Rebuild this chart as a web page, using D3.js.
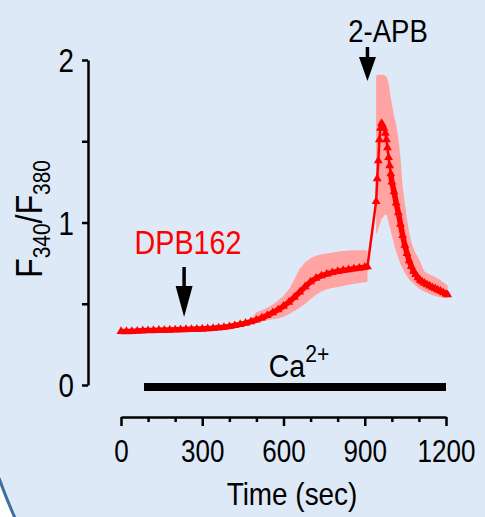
<!DOCTYPE html>
<html>
<head>
<meta charset="utf-8">
<script src="https://cdn.jsdelivr.net/npm/d3@7"></script>
<style>
  body { margin: 0; background: #ffffff; }
  svg { display: block; }
</style>
</head>
<body>
<svg id="chart" width="485" height="517"></svg>
<script>
// time points (sec)
const times = [0,20,40,60,80,100,120,140,160,180,200,220,240,260,280,300,320,340,360,380,400,420,440,460,480,
  500,520,540,560,580,600,620,640,660,680,700,720,740,760,780,800,820,840,860,880,900,910,
  942,946,950,954,958,962,966,971,976,980,984,988,992,996,
  1000,1008,1016,1024,1032,1040,1048,1056,1064,1072,1080,1088,1096,1104,1112,1120,1130,1140,1150,1160,1170,1180,1190,1200,1206];

// mean F340/F380
const meanVals = [0.33,0.33,0.33,0.332,0.334,0.335,0.336,0.337,0.338,0.339,0.34,0.341,0.342,0.343,0.344,0.345,0.347,0.349,0.352,0.355,0.36,0.366,0.373,0.381,0.39,
  0.40,0.413,0.428,0.445,0.463,0.485,0.51,0.54,0.572,0.605,0.635,0.657,0.672,0.683,0.692,0.699,0.705,0.71,0.715,0.72,0.725,0.728,
  1.13,1.27,1.38,1.51,1.58,1.61,1.60,1.58,1.55,1.51,1.46,1.40,1.35,1.30,
  1.25,1.19,1.12,1.06,0.99,0.92,0.86,0.81,0.765,0.73,0.70,0.68,0.66,0.645,0.635,0.627,0.618,0.61,0.60,0.593,0.585,0.577,0.568,0.56,0.555];

// upper edge of error band
const upperVals = [0.342,0.342,0.342,0.344,0.346,0.347,0.348,0.349,0.35,0.351,0.352,0.353,0.354,0.355,0.356,0.357,0.359,0.361,0.364,0.367,0.372,0.378,0.385,0.393,0.402,
  0.45,0.46,0.475,0.495,0.52,0.55,0.59,0.65,0.715,0.755,0.78,0.795,0.805,0.81,0.815,0.82,0.825,0.828,0.83,0.83,0.83,0.83,
  1.90,1.91,1.91,1.91,1.91,1.91,1.91,1.91,1.90,1.90,1.88,1.86,1.81,1.77,
  1.73,1.66,1.60,1.52,1.40,1.22,1.12,1.02,0.94,0.88,0.84,0.81,0.79,0.76,0.73,0.70,0.688,0.68,0.672,0.665,0.655,0.645,0.632,0.62,0.61];

// lower edge of error band
const lowerVals = [0.318,0.318,0.318,0.32,0.322,0.323,0.324,0.325,0.326,0.327,0.328,0.329,0.33,0.331,0.332,0.333,0.335,0.337,0.34,0.343,0.348,0.354,0.361,0.369,0.378,
  0.385,0.392,0.40,0.405,0.41,0.42,0.435,0.455,0.475,0.50,0.53,0.555,0.575,0.59,0.597,0.603,0.61,0.617,0.623,0.628,0.633,0.636,
  0.93,0.94,0.96,0.98,1.0,1.02,1.03,1.04,1.05,1.05,1.03,1.0,0.97,0.95,
  0.92,0.87,0.82,0.78,0.745,0.715,0.69,0.67,0.65,0.635,0.625,0.612,0.60,0.59,0.582,0.575,0.567,0.56,0.553,0.547,0.543,0.54,0.537,0.535,0.533];

const xTicks = [0,100,200,300,400,500,600,700,800,900,1000,1100,1200];
const xLabels = [0,300,600,900,1200];
const yTicks = [0,0.5,1,1.5,2];
const yLabels = [0,1,2];

// drug applications (sec)
const dpbTime = 233;
const apbTime = 910;
const caStart = 85, caEnd = 1200;

const font = "'Liberation Sans',Arial,sans-serif";
const red = "#ff0000", pink = "#ffa3a3";

const data = times.map((t, i) => ({t, m: meanVals[i], hi: upperVals[i], lo: lowerVals[i]}));

const svg = d3.select("#chart");

// squeeze text horizontally (the original uses a condensed face)
function condense(sel, k) {
  sel.each(function() {
    const el = d3.select(this);
    const tx = +el.attr("x") || 0, ty = +el.attr("y") || 0;
    el.attr("x", null).attr("y", null)
      .attr("transform", `translate(${tx},${ty}) scale(${k},1)`);
  });
}

// background panel with rounded edge bottom-left
svg.append("rect").attr("width", 485).attr("height", 517).attr("fill", "#dde9f6");
svg.append("path").attr("d", "M0,480 A550,550 0 0,0 15,517 L0,517 Z").attr("fill", "#ffffff");
svg.append("path").attr("d", "M-1,478 A550,550 0 0,0 15,518").attr("fill", "none")
  .attr("stroke", "#3f6f9f").attr("stroke-width", 3);

const x = d3.scaleLinear().domain([0, 1200]).range([121, 446]);
const y = d3.scaleLinear().domain([0, 2]).range([385, 60]);

// y axis
const yAxis = svg.append("g").attr("transform", "translate(88,0)")
  .call(d3.axisLeft(y).tickValues(yTicks).tickSize(6).tickSizeOuter(0)
    .tickFormat(d => yLabels.includes(d) ? d : ""));
yAxis.select(".domain").attr("stroke-width", 2.5);
yAxis.selectAll(".tick line").attr("stroke-width", 2.5);
yAxis.selectAll(".tick text").attr("font-family", font).attr("font-size", 33)
  .attr("fill", "#000").attr("x", -14).attr("y", 0).attr("dy", "0.36em")
  .call(condense, 0.84);

// x axis
const xAxis = svg.append("g").attr("transform", "translate(0,417)")
  .call(d3.axisBottom(x).tickValues(xTicks).tickSizeOuter(0)
    .tickFormat(d => xLabels.includes(d) ? d : ""));
xAxis.select(".domain").attr("stroke-width", 2.5);
xAxis.selectAll(".tick line").attr("stroke-width", 2.5)
  .attr("y2", d => xLabels.includes(d) ? 9 : 5);
xAxis.selectAll(".tick text").attr("font-family", font).attr("font-size", 31)
  .attr("fill", "#000").attr("x", 0).attr("y", 45).attr("dy", 0)
  .call(condense, 0.84);

// axis titles
svg.append("text").attr("x", 292).attr("y", 505).attr("text-anchor", "middle")
  .attr("font-family", font).attr("font-size", 31).text("Time (sec)")
  .call(condense, 0.9);

const yl = svg.append("text").attr("transform", "translate(42,219) rotate(-90) scale(0.87,1)")
  .attr("text-anchor", "middle").attr("font-family", font).attr("font-size", 37);
yl.append("tspan").text("F");
yl.append("tspan").attr("font-size", 24).attr("dy", 8).text("340");
yl.append("tspan").attr("dy", -8).text("/F");
yl.append("tspan").attr("font-size", 24).attr("dy", 8).text("380");

// error band, drawn in two pieces (gap while 2-APB is added)
const area = d3.area().x(d => x(d.t)).y0(d => y(d.lo)).y1(d => y(d.hi));
[data.filter(d => d.t <= apbTime), data.filter(d => d.t > apbTime)].forEach(seg => {
  svg.append("path").datum(seg).attr("d", area).attr("fill", pink);
});

// mean trace: thin connector, thicker where the points are dense
const line = d3.line().x(d => x(d.t)).y(d => y(d.m));
svg.append("path").datum(data).attr("d", line)
  .attr("fill", "none").attr("stroke", red).attr("stroke-width", 2.5);
[data.filter(d => d.t <= apbTime), data.filter(d => d.t >= 996)].forEach(seg => {
  svg.append("path").datum(seg).attr("d", line)
    .attr("fill", "none").attr("stroke", red).attr("stroke-width", 5.5)
    .attr("stroke-linejoin", "round");
});

svg.append("g").selectAll("path").data(data).join("path")
  .attr("transform", d => `translate(${x(d.t)},${y(d.m)})`)
  .attr("d", d3.symbol(d3.symbolTriangle, 34))
  .attr("fill", red);

// Ca2+ bar
svg.append("line").attr("x1", x(caStart)).attr("x2", x(caEnd))
  .attr("y1", 387).attr("y2", 387).attr("stroke", "#000").attr("stroke-width", 8);
const ca = svg.append("text").attr("x", 299).attr("y", 377).attr("text-anchor", "middle")
  .attr("font-family", font).attr("font-size", 31);
ca.append("tspan").text("Ca");
ca.append("tspan").attr("font-size", 23).attr("dy", -15).text("2+");
ca.call(condense, 0.92);

// arrows
function arrow(t, yTop, yBot, headLen) {
  const cx = x(t);
  svg.append("line").attr("x1", cx).attr("x2", cx).attr("y1", yTop).attr("y2", yBot - headLen + 2)
    .attr("stroke", "#000").attr("stroke-width", 3.5);
  svg.append("path")
    .attr("d", `M${cx - 8.5},${yBot - headLen} L${cx + 8.5},${yBot - headLen} L${cx},${yBot} Z`)
    .attr("fill", "#000");
}
arrow(dpbTime, 267, 317, 31);
arrow(apbTime, 47, 81, 24);

svg.append("text").attr("x", 188).attr("y", 254).attr("text-anchor", "middle")
  .attr("font-family", font).attr("font-size", 33).attr("fill", red).text("DPB162")
  .call(condense, 0.87);
svg.append("text").attr("x", 388).attr("y", 42).attr("text-anchor", "middle")
  .attr("font-family", font).attr("font-size", 32).attr("fill", "#000").text("2-APB")
  .call(condense, 0.86);
</script>
</body>
</html>
